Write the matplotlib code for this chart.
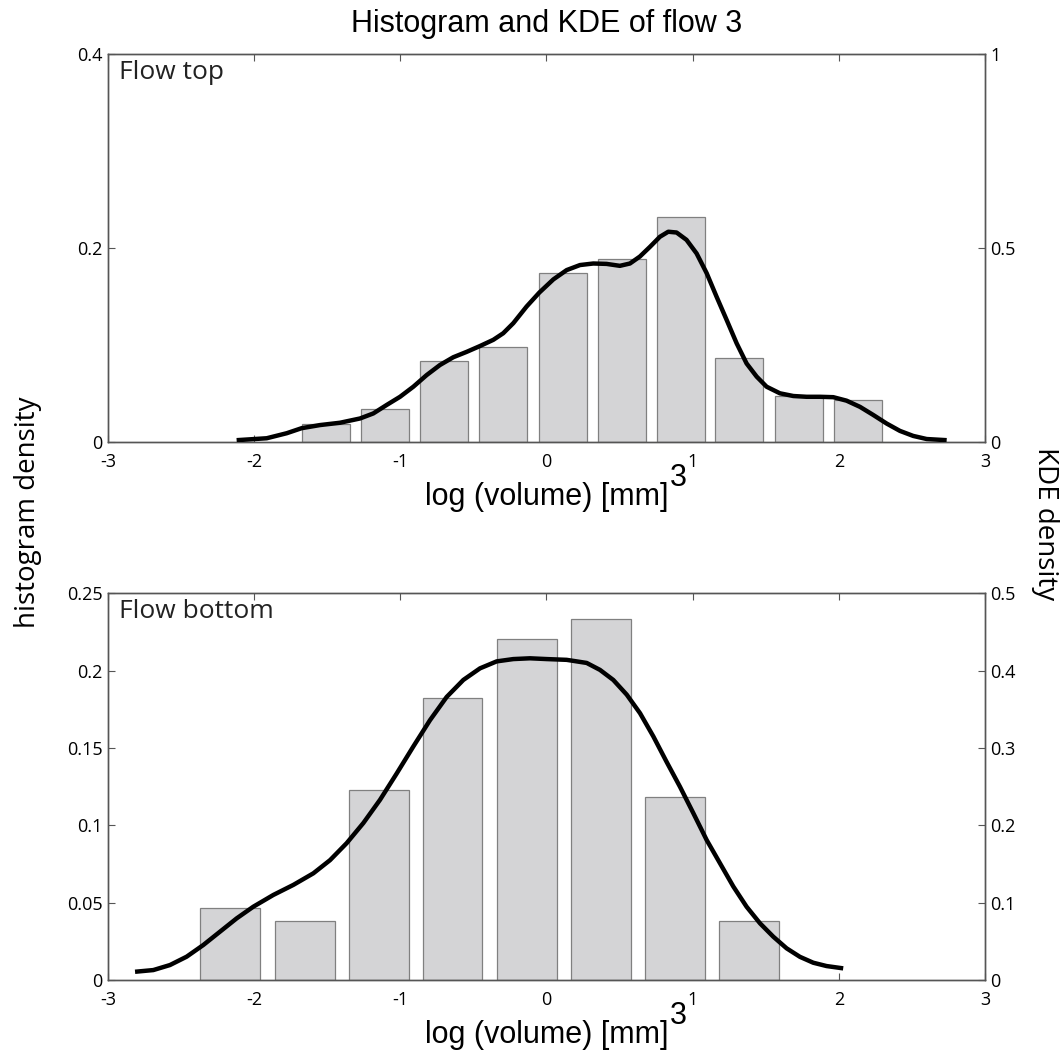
import matplotlib
matplotlib.use("Agg")
import matplotlib.pyplot as plt

# top panel: flow top
top_centers = [-1.51, -1.105, -0.70, -0.30, 0.112, 0.514, 0.918, 1.32, 1.73, 2.13]
top_hist = [0.018, 0.034, 0.083, 0.098, 0.174, 0.189, 0.232, 0.086, 0.047, 0.043]
top_kde_x = [-2.120, -1.914, -1.777, -1.675, -1.550, -1.413, -1.276, -1.185,
             -1.093, -1.002, -0.911, -0.820, -0.729, -0.638, -0.546, -0.455,
             -0.364, -0.296, -0.227, -0.136, -0.049, 0.047, 0.138, 0.229,
             0.320, 0.411, 0.502, 0.571, 0.639, 0.708, 0.776, 0.833, 0.890,
             0.958, 1.027, 1.096, 1.164, 1.233, 1.301, 1.369, 1.438, 1.506,
             1.597, 1.689, 1.780, 1.871, 1.962, 2.053, 2.145, 2.236, 2.327,
             2.418, 2.509, 2.601, 2.738]
top_kde_y = [0.004, 0.009, 0.022, 0.035, 0.043, 0.049, 0.060, 0.073,
             0.095, 0.116, 0.142, 0.172, 0.198, 0.218, 0.232, 0.247,
             0.263, 0.280, 0.306, 0.349, 0.385, 0.419, 0.443, 0.456,
             0.460, 0.459, 0.454, 0.460, 0.478, 0.503, 0.529, 0.542, 0.540,
             0.521, 0.486, 0.435, 0.374, 0.314, 0.254, 0.202, 0.168, 0.142,
             0.125, 0.118, 0.116, 0.116, 0.115, 0.106, 0.090, 0.069, 0.047,
             0.028, 0.015, 0.007, 0.004]

# bottom panel: flow bottom
bot_centers = [-2.166, -1.655, -1.148, -0.643, -0.134, 0.372, 0.878, 1.384]
bot_hist = [0.0463, 0.0381, 0.1228, 0.1823, 0.2203, 0.2332, 0.1185, 0.0381]
bot_kde_x = [-2.815, -2.690, -2.576, -2.462, -2.348, -2.234, -2.120, -2.006,
             -1.869, -1.732, -1.595, -1.481, -1.367, -1.253, -1.139, -1.025,
             -0.911, -0.797, -0.683, -0.569, -0.455, -0.341, -0.227, -0.113,
             0.001, 0.138, 0.275, 0.366, 0.457, 0.549, 0.640, 0.731, 0.822,
             0.913, 1.004, 1.096, 1.187, 1.278, 1.369, 1.461, 1.552, 1.643,
             1.734, 1.825, 1.916, 2.030]
bot_kde_y = [0.0107, 0.0129, 0.0194, 0.0302, 0.0453, 0.0625, 0.0797, 0.0948,
             0.110, 0.123, 0.138, 0.155, 0.177, 0.203, 0.233, 0.267,
             0.302, 0.336, 0.366, 0.388, 0.403, 0.412, 0.415, 0.416,
             0.415, 0.414, 0.410, 0.401, 0.388, 0.369, 0.345, 0.315, 0.282,
             0.250, 0.216, 0.181, 0.151, 0.121, 0.0948, 0.0733, 0.056, 0.041,
             0.030, 0.0224, 0.0181, 0.0151]

x_ticks = [-3, -2, -1, 0, 1, 2, 3]
x_ticklabels = ['-3', '-2', '-1', '0', '1', '2', '3']

TICK_FONT = 'Open Sans'
LABEL_FONT = 'Liberation Sans'
BAR_FACE = '#d4d4d6'
BAR_EDGE = '#808080'
SPINE = '#555555'


def panel(rect, centers, hist, width, kde_x, kde_y, hist_ticks, hist_labels,
          kde_ticks, kde_labels, hist_top, kde_top, name, xlabel_y):
    ax = fig.add_axes(rect)
    ax.bar(centers, hist, width=width, color=BAR_FACE, edgecolor=BAR_EDGE,
           linewidth=0.9, zorder=2)
    ax.set_xlim(-3, 3)
    ax.set_ylim(0, hist_top)
    ax.set_xticks(x_ticks)
    ax.set_xticklabels(x_ticklabels, fontfamily=TICK_FONT, fontsize=13)
    ax.set_yticks(hist_ticks)
    ax.set_yticklabels(hist_labels, fontfamily=TICK_FONT, fontsize=13)
    ax.tick_params(axis='x', direction='in', top=True, length=5, width=0.8,
                   color=SPINE, pad=8)
    ax.tick_params(axis='y', direction='in', length=5, width=0.8,
                   color=SPINE, pad=4)

    ax2 = ax.twinx()
    ax2.plot(kde_x, kde_y, color='black', linewidth=3.2,
             solid_capstyle='butt', solid_joinstyle='round', zorder=3)
    ax2.set_ylim(0, kde_top)
    ax2.set_yticks(kde_ticks)
    ax2.set_yticklabels(kde_labels, fontfamily=TICK_FONT, fontsize=13)
    ax2.tick_params(direction='in', length=5, width=0.8, color=SPINE, pad=4)

    for a in (ax, ax2):
        for s in a.spines.values():
            s.set_color(SPINE)
            s.set_linewidth(1.0)

    ax.text(0.012, 0.985, name, transform=ax.transAxes, ha='left', va='top',
            fontfamily=TICK_FONT, fontsize=19, color='#222222')

    fig.text(0.514, xlabel_y, 'log (volume) [mm]', ha='center', va='center',
             fontfamily=LABEL_FONT, fontsize=22)
    fig.text(0.6385, xlabel_y + 0.018, '3', ha='center', va='center',
             fontfamily=LABEL_FONT, fontsize=22)
    return ax


fig = plt.figure(figsize=(10.63, 10.52), dpi=100)

panel([0.1016, 0.5801, 0.825, 0.3683], top_centers, top_hist, 0.328,
      top_kde_x, top_kde_y, [0, 0.2, 0.4], ['0', '0.2', '0.4'],
      [0, 0.5, 1], ['0', '0.5', '1'], 0.4, 1.0, 'Flow top', 0.528)

panel([0.1016, 0.0684, 0.825, 0.3676], bot_centers, bot_hist, 0.41,
      bot_kde_x, bot_kde_y, [0, 0.05, 0.1, 0.15, 0.2, 0.25],
      ['0', '0.05', '0.1', '0.15', '0.2', '0.25'],
      [0, 0.1, 0.2, 0.3, 0.4, 0.5], ['0', '0.1', '0.2', '0.3', '0.4', '0.5'],
      0.25, 0.5, 'Flow bottom', 0.016)

fig.text(0.514, 0.977, 'Histogram and KDE of flow 3', ha='center', va='center',
         fontfamily=LABEL_FONT, fontsize=22)
fig.text(0.026, 0.513, 'histogram density', rotation=90, ha='center',
         va='center', fontfamily=TICK_FONT, fontsize=20)
fig.text(0.983, 0.502, 'KDE density', rotation=-90, ha='center',
         va='center', fontfamily=TICK_FONT, fontsize=20)

fig.savefig('out.png', dpi=100)
